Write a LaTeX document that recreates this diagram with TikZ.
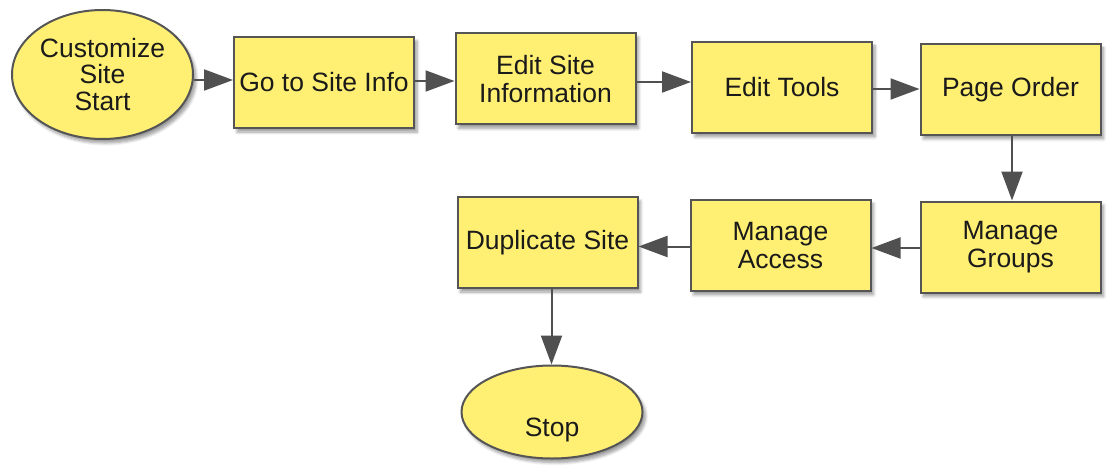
\documentclass[tikz,border=0pt]{standalone}
\usepackage{fontspec}
\setmainfont{Liberation Sans}
\usetikzlibrary{shapes.geometric,arrows.meta,shadows.blur}
\definecolor{boxfill}{HTML}{FFF073}
\definecolor{boxline}{HTML}{555555}
\definecolor{arrline}{HTML}{505050}
\definecolor{txt}{HTML}{1A1A1A}
\tikzset{
  base/.style={draw=boxline, line width=2pt, fill=boxfill, text=txt,
    align=center, inner sep=0pt,
    font=\fontsize{26.5}{28.3}\selectfont,
    blur shadow={shadow xshift=3pt, shadow yshift=-4pt, shadow blur steps=6,
      shadow opacity=40, shadow blur radius=3pt}},
  box/.style={base, rectangle, minimum width=180pt, minimum height=91pt},
  term/.style={base, ellipse, font=\fontsize{26.5}{26.5}\selectfont},
  arr/.style={draw=arrline, line width=2pt,
    -{Triangle[length=29pt,width=21pt]}, color=arrline}
}
\begin{document}
\begin{tikzpicture}[x=1pt,y=-1pt]
  \useasboundingbox (0,0) rectangle (1110,466);

  % upper row, left to right
  \node[term, minimum width=181pt, minimum height=129pt] (start) at (102.5,74.5) {Customize\\Site\\Start};
  \node[box] (goinfo)  at (324,82.5)   {Go to Site Info};
  \node[box] (editinfo) at (545.5,78.8) {Edit Site\\Information};
  \node[box] (tools)   at (782,87.3)   {Edit Tools};
  \node[box] (order)   at (1010.5,89.3) {Page Order};

  % lower row, right to left
  \node[box] (groups)  at (1010.5,247)  {Manage\\Groups};
  \node[box] (access)  at (780.5,245.3) {Manage\\Access};
  \node[box] (dup)     at (547.5,242.5) {Duplicate Site};

  % end terminal, its label sits below the centre
  \node[term, minimum width=181pt, minimum height=93pt] (stop) at (552,412) {\smash{\raisebox{-24pt}{Stop}}};

  % connectors
  \draw[arr] (start.east |- 0,80)   -- (goinfo.west |- 0,80);
  \draw[arr] (goinfo.east |- 0,81)  -- (editinfo.west |- 0,81);
  \draw[arr] (editinfo.east |- 0,82) -- (tools.west |- 0,82);
  \draw[arr] (tools.east |- 0,89)   -- (order.west |- 0,89);
  \draw[arr] (order.south -| 1012,0) -- (groups.north -| 1012,0);
  \draw[arr] (groups.west |- 0,248) -- (access.east |- 0,248);
  \draw[arr] (access.west |- 0,246.5) -- (dup.east |- 0,246.5);
  \draw[arr] (dup.south -| 551.5,0) -- (stop.north -| 551.5,0);
\end{tikzpicture}
\end{document}
